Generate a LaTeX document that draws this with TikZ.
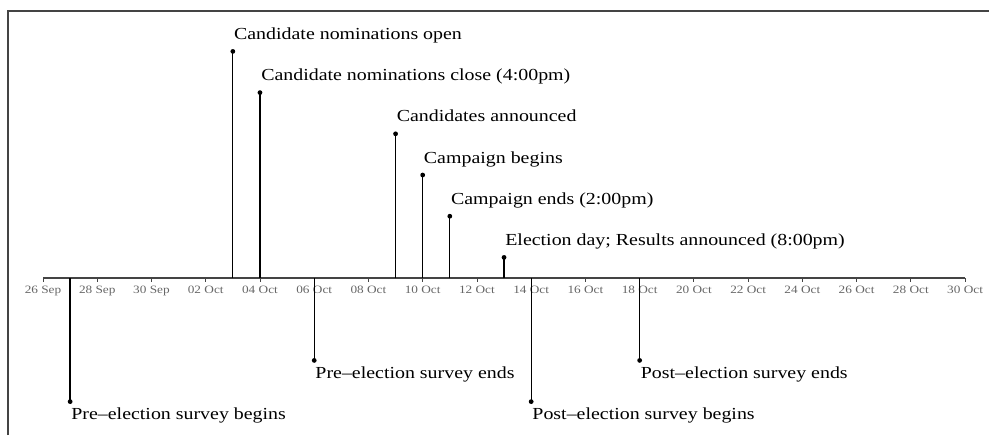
\documentclass[tikz,border=0pt]{standalone}
\usepackage{fontspec}
\setmainfont{Liberation Serif}[FakeStretch=1.18]
\definecolor{axisgray}{HTML}{444444}
\definecolor{labgray}{HTML}{666666}
\tikzset{
  stem/.style={line width=0.9pt,black},
  evlabel/.style={anchor=base west,inner sep=0pt,font=\fontsize{12}{14}\selectfont},
  ticklab/.style={anchor=base,inner sep=0pt,text=labgray,font=\fontsize{8}{10}\selectfont}
}
\begin{document}
\begin{tikzpicture}[x=0.678cm,y=1.03cm]
      \useasboundingbox (-1.586,-3.811) rectangle (34.882,6.748);
      \draw [line width=1.4pt,axisgray] (-1.291,-3.811) -- (-1.291,6.481) -- (34.882,6.481);
      % time axis
      \coordinate (start) at (0,0);
      \coordinate (end) at (34,0);
      \draw [line width=1pt,axisgray] (start) -- (end);
      \foreach \d/\lab in {0/26 Sep,2/28 Sep,4/30 Sep,6/02 Oct,8/04 Oct,10/06 Oct,12/08 Oct,14/10 Oct,16/12 Oct,
          18/14 Oct,20/16 Oct,22/18 Oct,24/20 Oct,26/22 Oct,28/24 Oct,30/26 Oct,32/28 Oct,34/30 Oct}{
        \draw [line width=0.6pt,axisgray] (\d,0) -- ++(0,-0.1cm);
        \node [ticklab] (t\d) at ([yshift=-0.375cm]\d,0) {\lab};
      }
      % events above the axis
      \coordinate (b2) at (7,0);   \coordinate (e2) at (7,5.5);
      \coordinate (b3) at (8,0);   \coordinate (e3) at (8,4.5);
      \coordinate (b5) at (13,0);  \coordinate (e5) at (13,3.5);
      \coordinate (b6) at (14,0);  \coordinate (e6) at (14,2.5);
      \coordinate (b7) at (15,0);  \coordinate (e7) at (15,1.5);
      \coordinate (b8) at (17,0);  \coordinate (e8) at (17,0.5);
      % events below the axis
      \coordinate (b1) at (1,0);   \coordinate (e1) at (1,-3);
      \coordinate (b4) at (10,0);  \coordinate (e4) at (10,-2);
      \coordinate (b9) at (18,0);  \coordinate (e9) at (18,-3);
      \coordinate (b10) at (22,0); \coordinate (e10) at (22,-2);
      \foreach \n in {1,...,10}{
        \draw [stem] (b\n) -- (e\n);
        \fill (e\n) circle (1.7pt);
      }
      \node [evlabel] (l2) at ([xshift=0.025cm,yshift=0.3cm]e2) {Candidate nominations open};
      \node [evlabel] (l3) at ([xshift=0.025cm,yshift=0.3cm]e3) {Candidate nominations close (4:00pm)};
      \node [evlabel] (l5) at ([xshift=0.025cm,yshift=0.3cm]e5) {Candidates announced};
      \node [evlabel] (l6) at ([xshift=0.025cm,yshift=0.3cm]e6) {Campaign begins};
      \node [evlabel] (l7) at ([xshift=0.025cm,yshift=0.3cm]e7) {Campaign ends (2:00pm)};
      \node [evlabel] (l8) at ([xshift=0.025cm,yshift=0.3cm]e8) {Election day; Results announced (8:00pm)};
      \node [evlabel] (l1) at ([xshift=0.025cm,yshift=-0.45cm]e1) {Pre--election survey begins};
      \node [evlabel] (l4) at ([xshift=0.025cm,yshift=-0.45cm]e4) {Pre--election survey ends};
      \node [evlabel] (l9) at ([xshift=0.025cm,yshift=-0.45cm]e9) {Post--election survey begins};
      \node [evlabel] (l10) at ([xshift=0.025cm,yshift=-0.45cm]e10) {Post--election survey ends};
\end{tikzpicture}
\end{document}
